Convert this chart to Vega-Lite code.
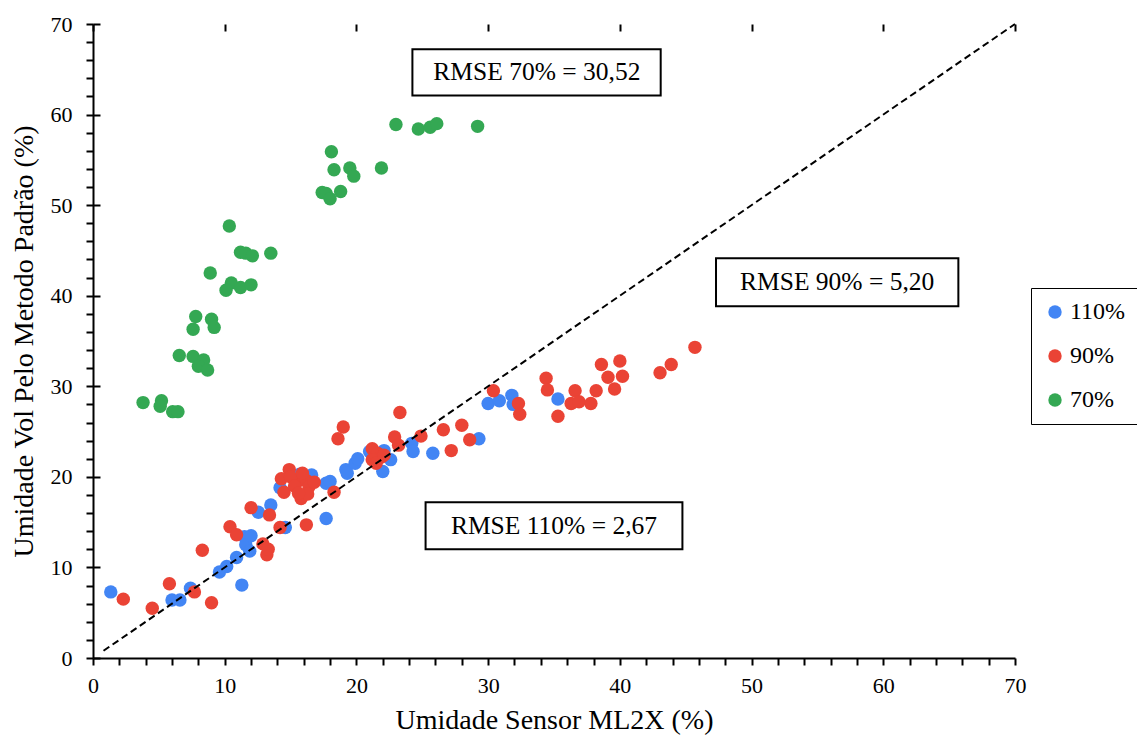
{
  "$schema": "https://vega.github.io/schema/vega-lite/v6.json",
  "width": 922,
  "height": 634,
  "autosize": {"type": "none"},
  "padding": {"left": 93, "top": 24, "right": 122, "bottom": 80},
  "background": "white",
  "config": {
    "view": {"stroke": null},
    "font": "Liberation Serif",
    "axis": {
      "domainColor": "black", "domainWidth": 2, "tickColor": "black", "tickWidth": 2,
      "labelFont": "Liberation Serif", "labelColor": "black", "labelFontSize": 22, "labelOverlap": false, "labelBound": false, "labelFlush": false,
      "titleFont": "Liberation Serif", "titleColor": "black", "titleFontWeight": "normal", "titleFontSize": 28,
      "gridColor": "black", "gridWidth": 2
    }
  },
  "resolve": {"axis": {"x": "independent", "y": "independent"}},
  "layer": [
    {
      "data": {"values": [
        {"s": "110%", "x": 1.35, "y": 7.3}, {"s": "110%", "x": 6.0, "y": 6.4}, {"s": "110%", "x": 6.6, "y": 6.4},
        {"s": "110%", "x": 7.4, "y": 7.7}, {"s": "110%", "x": 9.6, "y": 9.5}, {"s": "110%", "x": 10.15, "y": 10.1},
        {"s": "110%", "x": 10.9, "y": 11.1}, {"s": "110%", "x": 11.3, "y": 8.05}, {"s": "110%", "x": 11.5, "y": 13.4},
        {"s": "110%", "x": 11.6, "y": 12.5}, {"s": "110%", "x": 11.9, "y": 11.8}, {"s": "110%", "x": 12.0, "y": 13.5},
        {"s": "110%", "x": 12.55, "y": 16.1}, {"s": "110%", "x": 13.5, "y": 16.9}, {"s": "110%", "x": 14.6, "y": 14.4},
        {"s": "110%", "x": 14.2, "y": 18.8}, {"s": "110%", "x": 15.7, "y": 20.3}, {"s": "110%", "x": 16.6, "y": 20.2},
        {"s": "110%", "x": 17.7, "y": 19.3}, {"s": "110%", "x": 17.7, "y": 15.4}, {"s": "110%", "x": 18.0, "y": 19.5},
        {"s": "110%", "x": 19.2, "y": 20.8}, {"s": "110%", "x": 19.3, "y": 20.4}, {"s": "110%", "x": 19.9, "y": 21.5},
        {"s": "110%", "x": 20.1, "y": 22.0}, {"s": "110%", "x": 21.0, "y": 22.8}, {"s": "110%", "x": 22.0, "y": 20.6},
        {"s": "110%", "x": 22.1, "y": 22.9}, {"s": "110%", "x": 22.6, "y": 21.9}, {"s": "110%", "x": 24.2, "y": 23.7},
        {"s": "110%", "x": 24.3, "y": 22.8}, {"s": "110%", "x": 25.8, "y": 22.6}, {"s": "110%", "x": 29.3, "y": 24.2},
        {"s": "110%", "x": 30.0, "y": 28.1}, {"s": "110%", "x": 30.85, "y": 28.4}, {"s": "110%", "x": 31.8, "y": 29.0},
        {"s": "110%", "x": 31.9, "y": 28.0}, {"s": "110%", "x": 35.3, "y": 28.6},
        {"s": "90%", "x": 2.3, "y": 6.5}, {"s": "90%", "x": 4.5, "y": 5.5}, {"s": "90%", "x": 5.8, "y": 8.2},
        {"s": "90%", "x": 7.7, "y": 7.3}, {"s": "90%", "x": 9.0, "y": 6.1}, {"s": "90%", "x": 8.3, "y": 11.9},
        {"s": "90%", "x": 10.4, "y": 14.5}, {"s": "90%", "x": 10.9, "y": 13.6}, {"s": "90%", "x": 12.9, "y": 12.6},
        {"s": "90%", "x": 13.2, "y": 11.4}, {"s": "90%", "x": 13.3, "y": 12.0}, {"s": "90%", "x": 12.0, "y": 16.6},
        {"s": "90%", "x": 13.4, "y": 15.8}, {"s": "90%", "x": 14.2, "y": 14.4}, {"s": "90%", "x": 16.2, "y": 14.7},
        {"s": "90%", "x": 18.3, "y": 18.3}, {"s": "90%", "x": 14.9, "y": 20.8}, {"s": "90%", "x": 14.3, "y": 19.8},
        {"s": "90%", "x": 15.5, "y": 19.5}, {"s": "90%", "x": 16.2, "y": 19.6}, {"s": "90%", "x": 16.4, "y": 18.9},
        {"s": "90%", "x": 14.5, "y": 18.3}, {"s": "90%", "x": 15.8, "y": 17.6}, {"s": "90%", "x": 16.3, "y": 18.1},
        {"s": "90%", "x": 15.0, "y": 20.0}, {"s": "90%", "x": 15.3, "y": 19.0}, {"s": "90%", "x": 15.9, "y": 20.4},
        {"s": "90%", "x": 15.6, "y": 18.2}, {"s": "90%", "x": 16.8, "y": 19.4}, {"s": "90%", "x": 18.6, "y": 24.2},
        {"s": "90%", "x": 19.0, "y": 25.5}, {"s": "90%", "x": 21.2, "y": 23.1}, {"s": "90%", "x": 21.6, "y": 22.6},
        {"s": "90%", "x": 21.9, "y": 22.2}, {"s": "90%", "x": 21.2, "y": 21.9}, {"s": "90%", "x": 21.5, "y": 21.5},
        {"s": "90%", "x": 22.1, "y": 22.4}, {"s": "90%", "x": 22.9, "y": 24.4}, {"s": "90%", "x": 23.2, "y": 23.5},
        {"s": "90%", "x": 23.3, "y": 27.1}, {"s": "90%", "x": 24.9, "y": 24.5}, {"s": "90%", "x": 26.6, "y": 25.2},
        {"s": "90%", "x": 27.2, "y": 22.9}, {"s": "90%", "x": 28.0, "y": 25.7}, {"s": "90%", "x": 28.6, "y": 24.1},
        {"s": "90%", "x": 30.4, "y": 29.5}, {"s": "90%", "x": 32.3, "y": 28.1}, {"s": "90%", "x": 32.4, "y": 26.9},
        {"s": "90%", "x": 34.4, "y": 30.9}, {"s": "90%", "x": 34.5, "y": 29.6}, {"s": "90%", "x": 35.3, "y": 26.7},
        {"s": "90%", "x": 36.3, "y": 28.1}, {"s": "90%", "x": 36.6, "y": 29.5}, {"s": "90%", "x": 36.9, "y": 28.3},
        {"s": "90%", "x": 37.8, "y": 28.1}, {"s": "90%", "x": 38.2, "y": 29.5}, {"s": "90%", "x": 38.6, "y": 32.4},
        {"s": "90%", "x": 39.1, "y": 31.0}, {"s": "90%", "x": 39.6, "y": 29.7}, {"s": "90%", "x": 40.0, "y": 32.8},
        {"s": "90%", "x": 40.2, "y": 31.1}, {"s": "90%", "x": 43.05, "y": 31.5}, {"s": "90%", "x": 43.9, "y": 32.4},
        {"s": "90%", "x": 45.7, "y": 34.3},
        {"s": "70%", "x": 23.0, "y": 58.9}, {"s": "70%", "x": 24.7, "y": 58.4}, {"s": "70%", "x": 25.6, "y": 58.6},
        {"s": "70%", "x": 26.1, "y": 59.0}, {"s": "70%", "x": 29.2, "y": 58.7}, {"s": "70%", "x": 18.1, "y": 55.9},
        {"s": "70%", "x": 18.3, "y": 53.9}, {"s": "70%", "x": 19.5, "y": 54.1}, {"s": "70%", "x": 19.8, "y": 53.2},
        {"s": "70%", "x": 21.9, "y": 54.1}, {"s": "70%", "x": 17.4, "y": 51.4}, {"s": "70%", "x": 17.7, "y": 51.3},
        {"s": "70%", "x": 18.0, "y": 50.7}, {"s": "70%", "x": 18.8, "y": 51.5}, {"s": "70%", "x": 10.35, "y": 47.7},
        {"s": "70%", "x": 11.2, "y": 44.8}, {"s": "70%", "x": 11.6, "y": 44.7}, {"s": "70%", "x": 12.1, "y": 44.4},
        {"s": "70%", "x": 13.5, "y": 44.7}, {"s": "70%", "x": 8.9, "y": 42.5}, {"s": "70%", "x": 10.5, "y": 41.4},
        {"s": "70%", "x": 10.1, "y": 40.6}, {"s": "70%", "x": 11.2, "y": 40.9}, {"s": "70%", "x": 12.0, "y": 41.2},
        {"s": "70%", "x": 7.8, "y": 37.7}, {"s": "70%", "x": 7.6, "y": 36.3}, {"s": "70%", "x": 9.0, "y": 37.4},
        {"s": "70%", "x": 9.2, "y": 36.5}, {"s": "70%", "x": 6.55, "y": 33.4}, {"s": "70%", "x": 7.6, "y": 33.3},
        {"s": "70%", "x": 8.4, "y": 32.9}, {"s": "70%", "x": 8.0, "y": 32.2}, {"s": "70%", "x": 8.7, "y": 31.8},
        {"s": "70%", "x": 3.8, "y": 28.2}, {"s": "70%", "x": 5.2, "y": 28.4}, {"s": "70%", "x": 5.1, "y": 27.8},
        {"s": "70%", "x": 6.05, "y": 27.2}, {"s": "70%", "x": 6.45, "y": 27.2}
      ]},
      "mark": {"type": "circle", "size": 180, "opacity": 1},
      "encoding": {
        "x": {"field": "x", "type": "quantitative", "scale": {"domain": [0, 70], "nice": false},
          "axis": {"orient": "bottom", "values": [0, 10, 20, 30, 40, 50, 60, 70], "tickSize": 7, "labelPadding": 10, "labelOverlap": false, "labelFlush": false,
            "grid": true, "gridDash": [7, 3000],
            "title": "Umidade Sensor ML2X (%)", "titlePadding": 10}},
        "y": {"field": "y", "type": "quantitative", "scale": {"domain": [0, 70], "nice": false},
          "axis": {"orient": "left", "values": [0, 10, 20, 30, 40, 50, 60, 70], "tickSize": 7, "labelPadding": 14, "labelOverlap": false, "labelFlush": false,
            "grid": true, "gridDash": [7, 3000],
            "title": "Umidade Vol Pelo Metodo Padrão (%)", "titlePadding": 12}},
        "color": {"field": "s", "type": "nominal",
          "scale": {"domain": ["110%", "90%", "70%"], "range": ["#4285F4", "#EA4335", "#34A853"]},
          "legend": {"title": null, "orient": "none", "legendX": 938, "legendY": 264,
            "strokeColor": "black", "padding": 12, "fillColor": "white",
            "labelFont": "Liberation Serif", "labelFontSize": 24, "labelColor": "black",
            "symbolSize": 180, "symbolType": "circle", "rowPadding": 20, "labelOffset": 3}}
      }
    },
    {
      "data": {"values": [{"x": 0.8, "y": 0.8}, {"x": 70, "y": 70}]},
      "mark": {"type": "line", "color": "black", "strokeWidth": 2, "strokeDash": [7, 4]},
      "encoding": {
        "x": {"field": "x", "type": "quantitative", "scale": {"domain": [0, 70], "nice": false},
          "axis": {"orient": "bottom", "values": [2,4,6,8,12,14,16,18,22,24,26,28,32,34,36,38,42,44,46,48,52,54,56,58,62,64,66,68],
            "tickSize": 7, "labels": false, "domain": false, "grid": false, "title": null}},
        "y": {"field": "y", "type": "quantitative", "scale": {"domain": [0, 70], "nice": false},
          "axis": {"orient": "left", "values": [2,4,6,8,12,14,16,18,22,24,26,28,32,34,36,38,42,44,46,48,52,54,56,58,62,64,66,68],
            "tickSize": 7, "labels": false, "domain": false, "grid": false, "title": null}}
      }
    },
    {
      "data": {"values": [
        {"label": "RMSE 70% = 30,52", "xa": 24.25, "xb": 43.1, "ya": 67.2, "yb": 62.1, "tx": 33.7, "ty": 64.65},
        {"label": "RMSE 90% = 5,20", "xa": 47.3, "xb": 65.7, "ya": 44.15, "yb": 38.85, "tx": 56.5, "ty": 41.5},
        {"label": "RMSE 110% = 2,67", "xa": 25.25, "xb": 44.75, "ya": 17.2, "yb": 12.0, "tx": 35.0, "ty": 14.6}
      ]},
      "layer": [
        {
          "mark": {"type": "rect", "fill": "white", "stroke": "black", "strokeWidth": 2},
          "encoding": {
            "x": {"field": "xa", "type": "quantitative", "axis": null}, "x2": {"field": "xb"},
            "y": {"field": "ya", "type": "quantitative", "axis": null}, "y2": {"field": "yb"}
          }
        },
        {
          "mark": {"type": "text", "font": "Liberation Serif", "fontSize": 25.5, "color": "black", "align": "center", "baseline": "middle"},
          "encoding": {
            "x": {"field": "tx", "type": "quantitative", "axis": null},
            "y": {"field": "ty", "type": "quantitative", "axis": null},
            "text": {"field": "label"}
          }
        }
      ]
    }
  ]
}
